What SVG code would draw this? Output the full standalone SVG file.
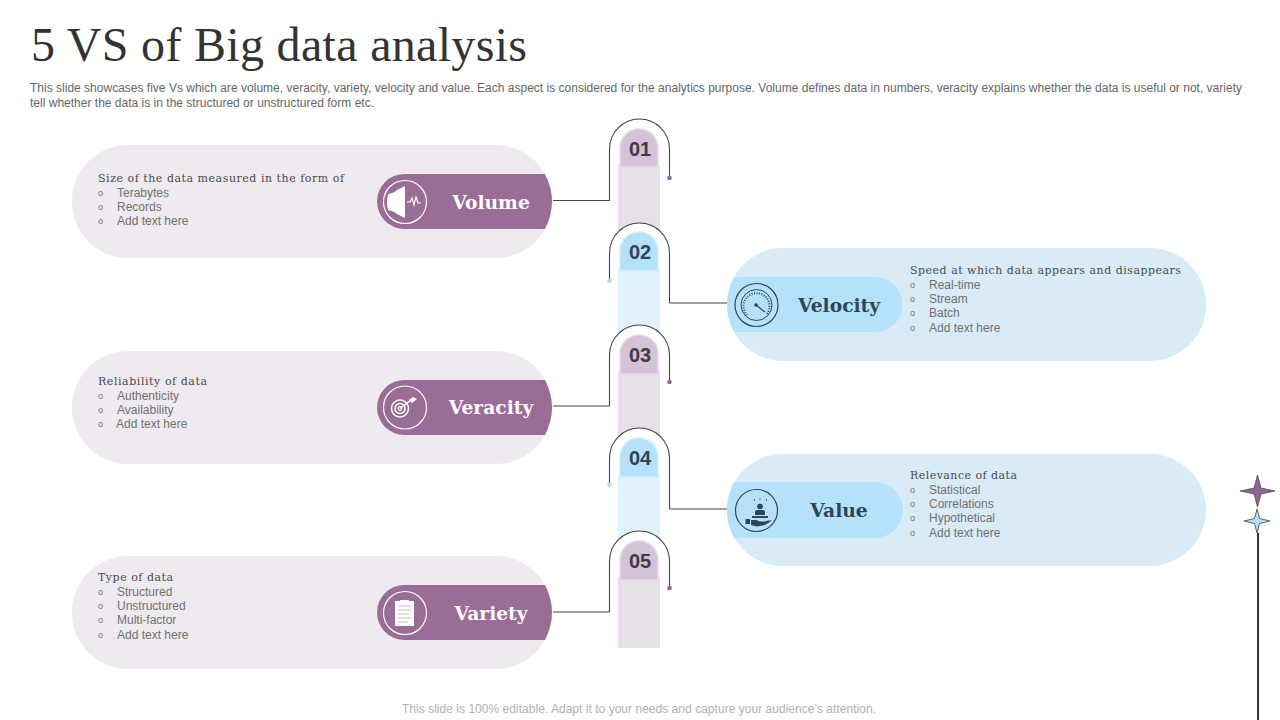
<svg xmlns="http://www.w3.org/2000/svg" width="1280" height="720" viewBox="0 0 1280 720">
<style>
text{font-family:"Liberation Sans",Arial,sans-serif}
.title{font-family:"Liberation Serif","Times New Roman",serif;font-size:48px;fill:#333}
.desc{font-size:12px;fill:#666}
.sub{font-family:"DejaVu Serif",serif;font-size:11px;fill:#4a4a4a}
.li{font-size:12px;fill:#707070}
.b{font-size:9px;fill:#707070}
.lab{font-family:"DejaVu Serif",serif;font-weight:bold;font-size:18.700px;text-anchor:middle}
.num{font-weight:bold;font-size:20px;text-anchor:middle}
.w{fill:#fff}.nw{fill:#2f4558}
.lp{fill:#efeaef}.lb{fill:#d8ebf7}
.bp{fill:#9a6d97}.bb{fill:#b5e1fb}
.ring{fill:none;stroke-width:1.200}
.wire{fill:none;stroke:#444;stroke-width:1.100}
.dome{fill:#fff;stroke:#444;stroke-width:1.100}
.tp{fill:#d4c3d6;stroke:#e4dae5;stroke-width:1.500}
.tb{fill:#b5e1fb;stroke:#d3eefd;stroke-width:1.500}
</style>
<text class="title" x="31" y="61" textLength="496" lengthAdjust="spacing">5 VS of Big data analysis</text>
<text class="desc" x="30" y="92" textLength="1212" lengthAdjust="spacing">This slide showcases five Vs which are volume, veracity, variety, velocity and value. Each aspect is considered for the analytics purpose. Volume defines data in numbers, veracity explains whether the data is useful or not, variety</text>
<text class="desc" x="30" y="107" textLength="344" lengthAdjust="spacing">tell whether the data is in the structured or unstructured form etc.</text>

<g id="column">
<rect x="618" y="165" width="42" height="75" fill="#e8e0e8"/>
<path class="dome" d="M609.500,281V253a30,30 0 0 1 60,0V303"/>
<rect x="618" y="268" width="42" height="75" fill="#e0f3fe"/>
<path class="dome" d="M609.500,406V355a30,30 0 0 1 60,0V382"/>
<rect x="618" y="371" width="42" height="75" fill="#e8e0e8"/>
<path class="dome" d="M609.500,485V458a30,30 0 0 1 60,0V509"/>
<rect x="618" y="474" width="42" height="75" fill="#e0f3fe"/>
<path class="dome" d="M609.500,612V561a30,30 0 0 1 60,0V588"/>
<rect x="618" y="577" width="42" height="71" fill="#e8e0e8"/>
</g>

<g id="connectors">
<path class="wire" d="M553,200.500H609.500V149a30,30 0 0 1 60,0V178"/>
<path class="wire" d="M727,303H669.500"/>
<path class="wire" d="M553,406H609.500"/>
<path class="wire" d="M727,509H669.500"/>
<path class="wire" d="M553,612H609.500"/>
<circle cx="669.500" cy="178" r="2.300" fill="#8f6a8f"/>
<circle cx="609.500" cy="281" r="2.300" fill="#b5dcf2"/>
<circle cx="669.500" cy="382" r="2.300" fill="#8f6a8f"/>
<circle cx="609.500" cy="485" r="2.300" fill="#b5dcf2"/>
<circle cx="669.500" cy="588" r="2.300" fill="#8f6a8f"/>
</g>

<g id="step-01"><path class="tp" d="M620,167V148a19,19 0 0 1 38,0V167Z"/><text class="num" x="640" y="156" fill="#403b42">01</text></g>
<g id="step-02"><path class="tb" d="M620,271V251a19,19 0 0 1 38,0V271Z"/><text class="num" x="640" y="259" fill="#2f4558">02</text></g>
<g id="step-03"><path class="tp" d="M620,374V354a19,19 0 0 1 38,0V374Z"/><text class="num" x="640" y="362" fill="#403b42">03</text></g>
<g id="step-04"><path class="tb" d="M620,477V457a19,19 0 0 1 38,0V477Z"/><text class="num" x="640" y="465" fill="#2f4558">04</text></g>
<g id="step-05"><path class="tp" d="M620,580V560a19,19 0 0 1 38,0V580Z"/><text class="num" x="640" y="568" fill="#403b42">05</text></g>

<g id="volume">
<rect class="lp" x="72" y="145" width="480" height="113" rx="56"/>
<path class="bp" d="M404.500,174H545Q552,188 552,201.500Q552,215 545,229H404.500a27.500,27.500 0 0 1 0,-55Z"/>
<circle class="ring" cx="405" cy="202" r="21.500" stroke="#fff"/>
<path class="w" d="M388,194Q394,193 397,190L405,186V218L397,214Q394,211 388,210Q386,202 388,194Z"/>
<path d="M407,202H410L412,198L414,205L416,197L418,203H421" fill="none" stroke="#fff" stroke-width="1.200"/>
<text class="lab w" x="491" y="209">Volume</text>
<text class="sub" x="98" y="182" textLength="246">Size of the data measured in the form of</text>
<text class="b" x="98" y="196">o</text><text class="li" x="117" y="197">Terabytes</text>
<text class="b" x="98" y="210">o</text><text class="li" x="117" y="211">Records</text>
<text class="b" x="98" y="224">o</text><text class="li" x="117" y="225">Add text here</text>
</g>

<g id="veracity">
<rect class="lp" x="72" y="351" width="480" height="113" rx="56"/>
<path class="bp" d="M404.500,380H545Q552,394 552,407.500Q552,421 545,435H404.500a27.500,27.500 0 0 1 0,-55Z"/>
<circle class="ring" cx="405" cy="407.500" r="21.500" stroke="#fff"/>
<g fill="none" stroke="#fff"><circle cx="400" cy="408.500" r="8.500" stroke-width="1.500"/><circle cx="400" cy="408.500" r="5" stroke-width="1.500"/><circle cx="400" cy="408.500" r="1.800" stroke-width="1.200"/><path d="M400,408.500L411,400" stroke-width="1.400"/></g>
<path class="w" d="M409,400L413,397L417,399L412,403Z"/>
<text class="lab w" x="491" y="414">Veracity</text>
<text class="sub" x="98" y="385" textLength="109">Reliability of data</text>
<text class="b" x="98" y="399">o</text><text class="li" x="117" y="400">Authenticity</text>
<text class="b" x="98" y="413">o</text><text class="li" x="117" y="414">Availability</text>
<text class="b" x="98" y="427">o</text><text class="li" x="116" y="428">Add text here</text>
</g>

<g id="variety">
<rect class="lp" x="72" y="556" width="480" height="113" rx="56"/>
<path class="bp" d="M404.500,585H545Q552,599 552,612.500Q552,626 545,640H404.500a27.500,27.500 0 0 1 0,-55Z"/>
<circle class="ring" cx="405" cy="613" r="21.500" stroke="#fff"/>
<path class="w" d="M395,601H400V600H409V601H414V626H395Z"/>
<path d="M398,606H411M398,610H411M398,614H409M398,618H411M398,622H408" stroke="#9a6d97" stroke-width=".5"/>
<text class="lab w" x="491" y="620">Variety</text>
<text class="sub" x="98" y="581" textLength="75">Type of data</text>
<text class="b" x="98" y="595">o</text><text class="li" x="117" y="596">Structured</text>
<text class="b" x="98" y="609">o</text><text class="li" x="117" y="610">Unstructured</text>
<text class="b" x="98" y="623">o</text><text class="li" x="117" y="624">Multi-factor</text>
<text class="b" x="98" y="638">o</text><text class="li" x="117" y="639">Add text here</text>
</g>

<g id="velocity">
<rect class="lb" x="727" y="248" width="479" height="113" rx="56"/>
<path class="bb" d="M734,277H875a27.500,27.500 0 0 1 0,55H734Q727,318 727,304.500Q727,291 734,277Z"/>
<g fill="none" stroke="#2f4558">
<circle cx="756.500" cy="305" r="21.500" stroke-width="1.200"/>
<circle cx="756.500" cy="305" r="15.500" stroke-width="1"/>
<path d="M747,315A13,13 0 1 1 766,315" stroke-width="2" stroke-dasharray="1 1.500"/>
<path d="M756,305L765,312" stroke-width="1.200"/>
</g>
<circle cx="756" cy="305" r="1.800" fill="#2f4558"/>
<text class="lab nw" x="839" y="312">Velocity</text>
<text class="sub" x="910" y="274" textLength="271">Speed at which data appears and disappears</text>
<text class="b" x="910" y="288">o</text><text class="li" x="929" y="289">Real-time</text>
<text class="b" x="910" y="302">o</text><text class="li" x="929" y="303">Stream</text>
<text class="b" x="910" y="316">o</text><text class="li" x="929" y="317">Batch</text>
<text class="b" x="910" y="331">o</text><text class="li" x="929" y="332">Add text here</text>
</g>

<g id="value">
<rect class="lb" x="727" y="454" width="479" height="112" rx="56"/>
<path class="bb" d="M734,482H875a27.500,27.500 0 0 1 0,56H734Q727,524 727,510Q727,496 734,482Z"/>
<circle class="ring" cx="756.500" cy="510.500" r="21" stroke="#2f4558"/>
<circle cx="760" cy="506.500" r="2.800" fill="#2f4558"/>
<path d="M755,515V512Q755,510 757,510H763Q765,510 765,512V515Z" fill="#2f4558"/>
<path d="M752,516H768V518H752Z" fill="#2f4558"/>
<path d="M745.500,519H750V524H745.500ZM751,520H756L760,521.500H765L768,520.500H772L765,525L757,526.500L751,525Z" fill="#2f4558"/>
<path d="M754,500h1M759.500,499h1M766,500h1" stroke="#2f4558" stroke-width="1.300"/>
<text class="lab nw" x="839" y="517">Value</text>
<text class="sub" x="910" y="479" textLength="107">Relevance of data</text>
<text class="b" x="910" y="493">o</text><text class="li" x="929" y="494">Statistical</text>
<text class="b" x="910" y="507">o</text><text class="li" x="929" y="508">Correlations</text>
<text class="b" x="910" y="521">o</text><text class="li" x="929" y="522">Hypothetical</text>
<text class="b" x="910" y="536">o</text><text class="li" x="929" y="537">Add text here</text>
</g>

<g id="stars">
<path d="M1257.500,475L1261,488L1275,491L1261,494L1257.500,507L1254,494L1240,491L1254,488Z" fill="#8f6491" stroke="#444" stroke-width=".7"/>
<path d="M1257,509L1259.500,518.500L1270,521L1259.500,523.500L1257,533L1254.500,523.500L1244,521L1254.500,518.500Z" fill="#b5e1fb" stroke="#3f5566" stroke-width=".9"/>
<path d="M1258,533V720" stroke="#333" stroke-width="2"/>
</g>
<text x="402" y="713" font-size="12" fill="#b0b0b0" textLength="474">This slide is 100% editable. Adapt it to your needs and capture your audience’s attention.</text>
</svg>
